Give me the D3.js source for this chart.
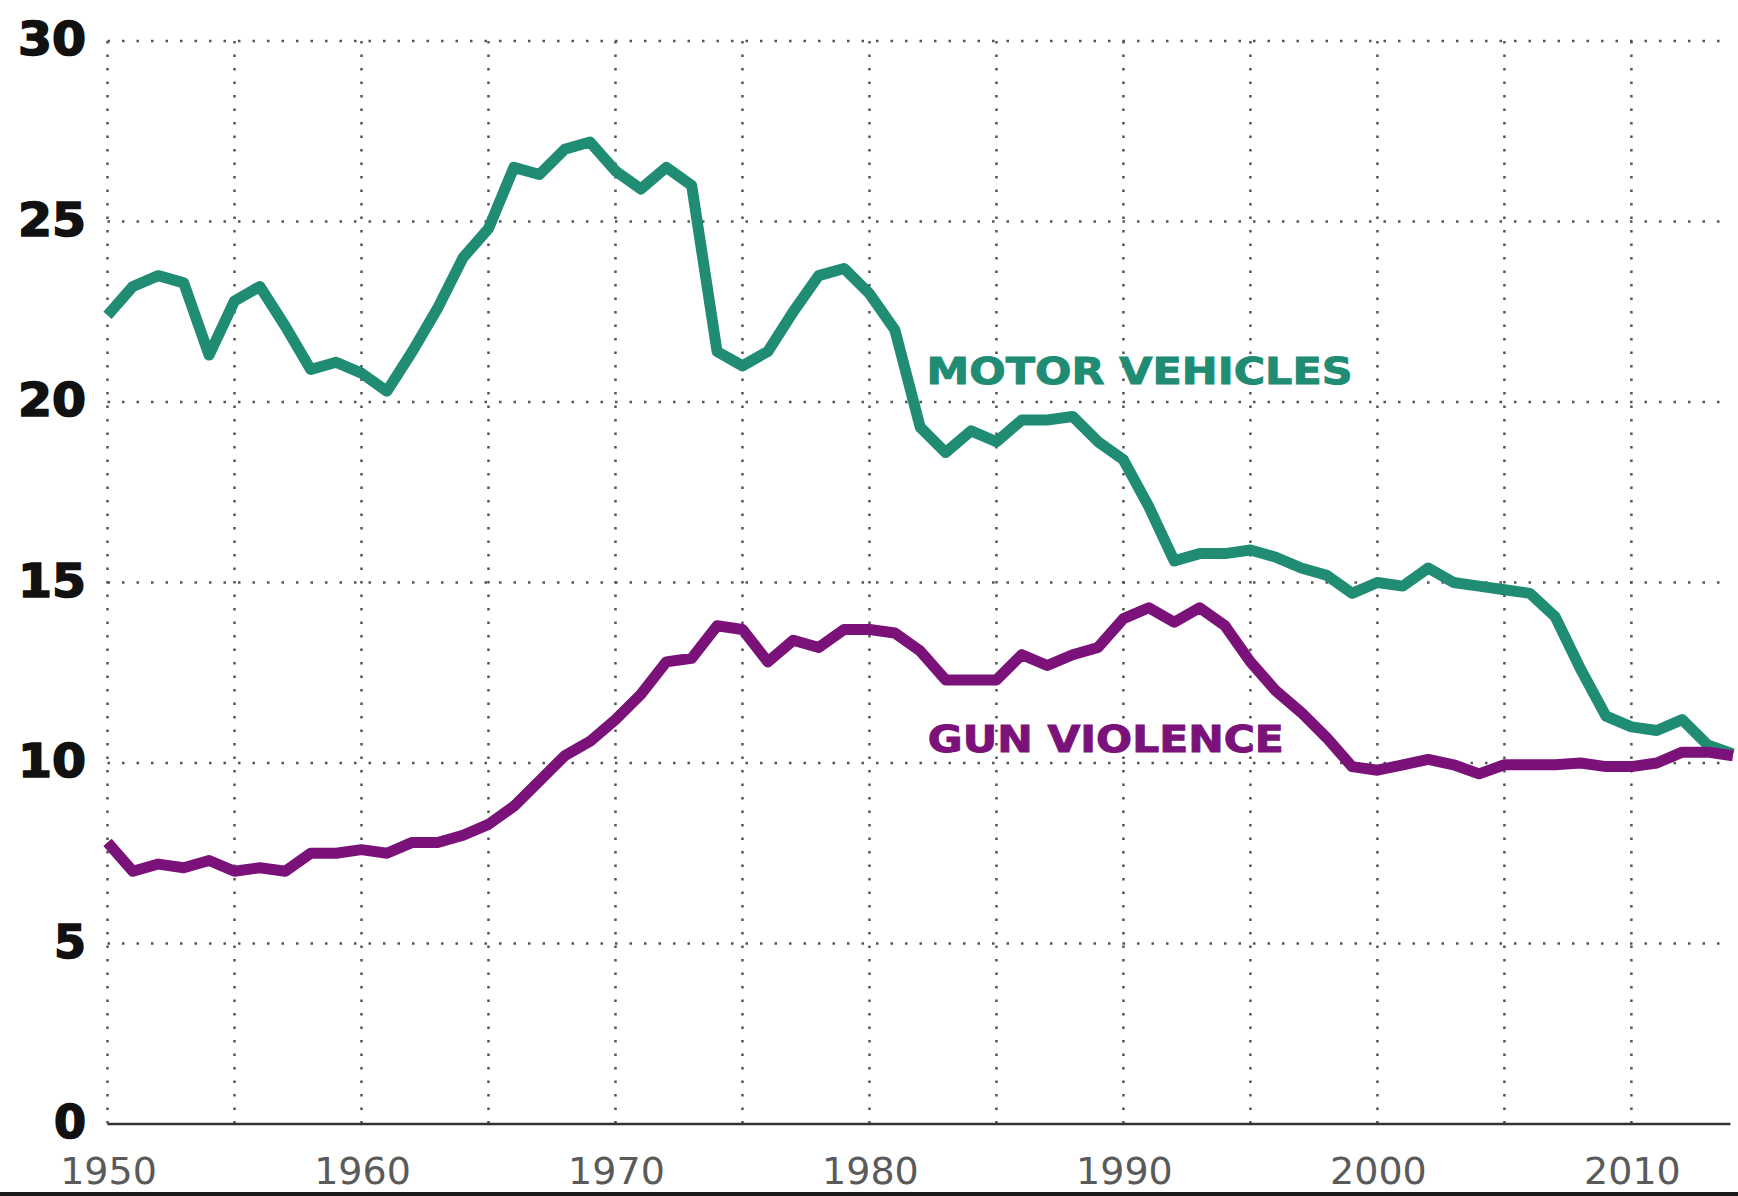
<!DOCTYPE html>
<html>
<head>
<meta charset="utf-8">
<script src="https://cdn.jsdelivr.net/npm/d3@7"></script>
<style>
  html, body { margin: 0; padding: 0; background: #fff; }
  svg { display: block; }
</style>
</head>
<body>
<svg id="chart" width="1738" height="1196"></svg>
<script>
const years = d3.range(1950, 2015);
const motorVehicles = [22.4, 23.2, 23.5, 23.3, 21.3, 22.8, 23.2, 22.1, 20.9, 21.1,
  20.8, 20.3, 21.4, 22.6, 24.0, 24.8, 26.5, 26.3, 27.0, 27.2,
  26.4, 25.9, 26.5, 26.0, 21.4, 21.0, 21.4, 22.5, 23.5, 23.7,
  23.0, 22.0, 19.3, 18.6, 19.2, 18.9, 19.5, 19.5, 19.6, 18.9,
  18.4, 17.1, 15.6, 15.8, 15.8, 15.9, 15.7, 15.4, 15.2, 14.7,
  15.0, 14.9, 15.4, 15.0, 14.9, 14.8, 14.7, 14.05, 12.6, 11.3,
  11.0, 10.9, 11.2, 10.5, 10.25];
const gunViolence = [7.8, 7.0, 7.2, 7.1, 7.3, 7.0, 7.1, 7.0, 7.5, 7.5,
  7.6, 7.5, 7.8, 7.8, 8.0, 8.3, 8.8, 9.5, 10.2, 10.6,
  11.2, 11.9, 12.8, 12.9, 13.8, 13.7, 12.8, 13.4, 13.2, 13.7,
  13.7, 13.6, 13.1, 12.3, 12.3, 12.3, 13.0, 12.7, 13.0, 13.2,
  14.0, 14.3, 13.9, 14.3, 13.8, 12.8, 12.0, 11.4, 10.7, 9.9,
  9.8, 9.95, 10.1, 9.95, 9.7, 9.95, 9.95, 9.95, 10.0, 9.9,
  9.9, 10.0, 10.3, 10.3, 10.2];
const yTicks = [0, 5, 10, 15, 20, 25, 30];
const xLabelTicks = [1950, 1960, 1970, 1980, 1990, 2000, 2010];
const xGridTicks = d3.range(1950, 2011, 5);
const seriesNames = ["MOTOR VEHICLES", "GUN VIOLENCE"];
const seriesColors = ["#1f8c73", "#7a1279"];
// label anchors in data space (year, value)
const labelYears = [1982.25, 1982.3];
const labelValues = [20.5, 10.3];

const svg = d3.select("#chart");
const x = d3.scaleLinear().domain([1950, 2014]).range([107.5, 1733]);
const y = d3.scaleLinear().domain([0, 30]).range([1124, 41]);

// horizontal dotted grid
svg.append("g").selectAll("line")
  .data(yTicks.filter(d => d > 0))
  .join("line")
  .attr("x1", x(1950)).attr("x2", x(2013.6))
  .attr("y1", d => y(d)).attr("y2", d => y(d))
  .attr("stroke", "#555").attr("stroke-width", 2.5)
  .attr("stroke-dasharray", "2.5,12");

// vertical dotted grid
svg.append("g").selectAll("line")
  .data(xGridTicks)
  .join("line")
  .attr("x1", d => x(d)).attr("x2", d => x(d))
  .attr("y1", y(30)).attr("y2", y(0))
  .attr("stroke", "#555").attr("stroke-width", 2.5)
  .attr("stroke-dasharray", "2.5,11");

// baseline
svg.append("line")
  .attr("x1", x(1950)).attr("x2", x(2013.9))
  .attr("y1", y(0)).attr("y2", y(0))
  .attr("stroke", "#333").attr("stroke-width", 2.5);

// y tick labels
svg.append("g").selectAll("text")
  .data(yTicks)
  .join("text")
  .attr("x", 86)
  .attr("y", d => y(d) + 14)
  .attr("text-anchor", "end")
  .attr("font-family", "DejaVu Sans, sans-serif")
  .attr("font-weight", "bold")
  .attr("font-size", 46)
  .attr("fill", "#111")
  .attr("stroke", "#111")
  .attr("stroke-width", 1.6)
  .each(function(d) {
    if (String(d).length > 1) {
      d3.select(this).attr("textLength", 68).attr("lengthAdjust", "spacingAndGlyphs");
    }
  })
  .text(d => d);

// x tick labels
svg.append("g").selectAll("text")
  .data(xLabelTicks)
  .join("text")
  .attr("x", d => x(d) + 1)
  .attr("y", 1184)
  .attr("text-anchor", "middle")
  .attr("font-family", "DejaVu Sans, sans-serif")
  .attr("font-size", 38)
  .attr("fill", "#5a5a5a")
  .text(d => d);

// lines
const line = d3.line()
  .x((d, i) => x(years[i]))
  .y(d => y(d));

[motorVehicles, gunViolence].forEach((vals, k) => {
  svg.append("path")
    .datum(vals)
    .attr("d", line)
    .attr("fill", "none")
    .attr("stroke", seriesColors[k])
    .attr("stroke-width", 11)
    .attr("stroke-linejoin", "round")
    .attr("stroke-linecap", "butt");
});

// series labels
const labelWidths = [426, 356];
seriesNames.forEach((name, k) => {
  svg.append("text")
    .attr("x", x(labelYears[k]))
    .attr("y", y(labelValues[k]))
    .attr("font-family", "DejaVu Sans, sans-serif")
    .attr("font-weight", "bold")
    .attr("font-size", 38)
    .attr("fill", seriesColors[k])
    .attr("stroke", seriesColors[k])
    .attr("stroke-width", 1)
    .attr("textLength", labelWidths[k])
    .attr("lengthAdjust", "spacingAndGlyphs")
    .text(name);
});

// bottom border strip
svg.append("rect")
  .attr("x", 0).attr("y", 1192).attr("width", 1738).attr("height", 4)
  .attr("fill", "#1a1a1a");
</script>
</body>
</html>
